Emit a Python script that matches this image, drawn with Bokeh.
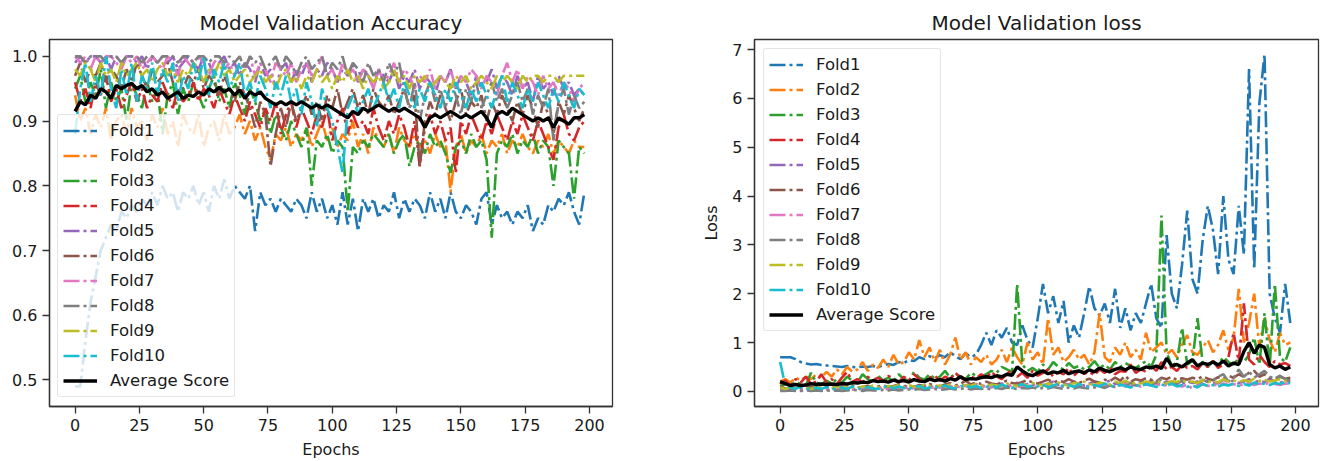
from bokeh.plotting import figure
from bokeh.layouts import row
from bokeh.models import Range1d, FixedTicker, PrintfTickFormatter
from bokeh.embed import file_html
from bokeh.resources import INLINE

EPOCHS = list(range(0, 200, 2))
FOLD_NAMES = ["Fold1", "Fold2", "Fold3", "Fold4", "Fold5", "Fold6", "Fold7", "Fold8", "Fold9", "Fold10"]
COLORS = ["#1f77b4", "#ff7f0e", "#2ca02c", "#d62728", "#9467bd",
          "#8c564b", "#e377c2", "#7f7f7f", "#bcbd22", "#17becf"]
X_TICKS = [0, 25, 50, 75, 100, 125, 150, 175, 200]
ACC_TICKS = [0.5, 0.6, 0.7, 0.8, 0.9, 1.0]
LOSS_TICKS = [0, 1, 2, 3, 4, 5, 6, 7]

# ---------------- validation accuracy (every 2nd epoch) ----------------
acc_fold1 = [0.49, 0.49, 0.56, 0.62, 0.66, 0.70, 0.72, 0.74, 0.73, 0.76,
             0.75, 0.77, 0.76, 0.78, 0.77, 0.79, 0.77, 0.80, 0.78, 0.79,
             0.76, 0.79, 0.78, 0.80, 0.77, 0.79, 0.76, 0.80, 0.78, 0.81,
             0.78, 0.80, 0.79, 0.78, 0.80, 0.73, 0.79, 0.77, 0.78, 0.76,
             0.78, 0.77, 0.76, 0.78, 0.77, 0.75, 0.79, 0.76, 0.78, 0.75,
             0.77, 0.74, 0.79, 0.74, 0.78, 0.73, 0.78, 0.76, 0.78, 0.75,
             0.77, 0.76, 0.79, 0.75, 0.78, 0.76, 0.78, 0.77, 0.75, 0.79,
             0.76, 0.78, 0.75, 0.79, 0.76, 0.75, 0.77, 0.76, 0.74, 0.78,
             0.79, 0.74, 0.77, 0.75, 0.76, 0.74, 0.76, 0.75, 0.77, 0.73,
             0.75, 0.74, 0.77, 0.76, 0.78, 0.77, 0.79, 0.76, 0.74, 0.79]
acc_fold2 = [0.94, 0.90, 0.92, 0.88, 0.91, 0.89, 0.92, 0.87, 0.90, 0.91,
             0.88, 0.92, 0.89, 0.90, 0.87, 0.91, 0.89, 0.92, 0.88, 0.90,
             0.86, 0.91, 0.89, 0.88, 0.91, 0.86, 0.89, 0.90, 0.87, 0.91,
             0.88, 0.89, 0.91, 0.88, 0.90, 0.87, 0.89, 0.86, 0.84, 0.88,
             0.87, 0.89, 0.86, 0.88, 0.87, 0.89, 0.86, 0.88, 0.90, 0.87,
             0.89, 0.86, 0.88, 0.87, 0.90, 0.86, 0.88, 0.85, 0.89, 0.87,
             0.86, 0.88, 0.85, 0.89, 0.87, 0.86, 0.88, 0.86, 0.87, 0.85,
             0.88, 0.86, 0.87, 0.79, 0.86, 0.88, 0.85, 0.87, 0.86, 0.88,
             0.85, 0.87, 0.86, 0.88, 0.85, 0.87, 0.86, 0.88, 0.86, 0.85,
             0.87, 0.86, 0.88, 0.85, 0.87, 0.86, 0.85, 0.87, 0.86, 0.86]
acc_fold3 = [0.95, 0.97, 0.93, 0.96, 0.94, 0.98, 0.92, 0.96, 0.93, 0.95,
             0.90, 0.96, 0.94, 0.92, 0.96, 0.93, 0.95, 0.88, 0.94, 0.96,
             0.91, 0.95, 0.93, 0.96, 0.94, 0.92, 0.95, 0.97, 0.93, 0.95,
             0.92, 0.96, 0.94, 0.91, 0.95, 0.93, 0.90, 0.92, 0.88, 0.91,
             0.89, 0.87, 0.90, 0.88, 0.86, 0.89, 0.80, 0.87, 0.86, 0.88,
             0.85, 0.87, 0.86, 0.76, 0.86, 0.85, 0.87, 0.86, 0.88, 0.87,
             0.86, 0.88, 0.85, 0.87, 0.88, 0.83, 0.86, 0.87, 0.85, 0.88,
             0.86, 0.87, 0.85, 0.82, 0.86, 0.87, 0.85, 0.88, 0.86, 0.87,
             0.84, 0.72, 0.85, 0.87, 0.86, 0.88, 0.85, 0.87, 0.86, 0.88,
             0.85, 0.87, 0.86, 0.80, 0.87, 0.86, 0.85, 0.78, 0.86, 0.85]
acc_fold4 = [0.96, 0.93, 0.95, 0.92, 0.96, 0.94, 0.97, 0.93, 0.95, 0.92,
             0.94, 0.96, 0.93, 0.95, 0.92, 0.94, 0.93, 0.96, 0.94, 0.92,
             0.95, 0.93, 0.94, 0.96, 0.93, 0.95, 0.94, 0.92, 0.95, 0.93,
             0.91, 0.94, 0.92, 0.90, 0.93, 0.91, 0.89, 0.92, 0.90, 0.93,
             0.88, 0.91, 0.93, 0.89, 0.92, 0.90, 0.88, 0.91, 0.89, 0.92,
             0.87, 0.90, 0.92, 0.88, 0.91, 0.89, 0.90, 0.88, 0.92, 0.89,
             0.87, 0.90, 0.88, 0.91, 0.89, 0.86, 0.90, 0.83, 0.89, 0.91,
             0.88, 0.90, 0.87, 0.89, 0.82, 0.90, 0.88, 0.91, 0.89, 0.87,
             0.90, 0.88, 0.91, 0.89, 0.87, 0.90, 0.88, 0.91, 0.89, 0.87,
             0.90, 0.88, 0.86, 0.84, 0.89, 0.91, 0.88, 0.87, 0.89, 0.90]
acc_fold5 = [0.99, 1.00, 0.99, 1.00, 1.00, 0.99, 1.00, 0.98, 1.00, 0.99,
             1.00, 1.00, 0.99, 1.00, 0.98, 1.00, 0.99, 1.00, 0.99, 1.00,
             0.98, 0.99, 1.00, 0.99, 0.98, 1.00, 0.99, 0.97, 0.99, 1.00,
             0.98, 0.99, 0.97, 0.99, 0.98, 0.96, 0.99, 0.97, 0.98, 0.95,
             0.98, 0.99, 0.96, 0.98, 0.97, 0.99, 0.96, 0.98, 0.97, 0.99,
             0.98, 0.96, 0.98, 0.97, 0.99, 0.96, 0.98, 0.97, 0.95, 0.98,
             0.97, 0.96, 0.98, 0.95, 0.97, 0.96, 0.98, 0.95, 0.97, 0.96,
             0.94, 0.97, 0.96, 0.98, 0.95, 0.97, 0.96, 0.94, 0.97, 0.95,
             0.96, 0.98, 0.95, 0.97, 0.96, 0.94, 0.97, 0.95, 0.96, 0.93,
             0.97, 0.95, 0.96, 0.94, 0.97, 0.95, 0.96, 0.94, 0.95, 0.94]
acc_fold6 = [0.97, 0.99, 0.96, 0.98, 0.97, 0.99, 0.96, 0.98, 0.97, 0.95,
             0.98, 0.96, 0.99, 0.97, 0.95, 0.98, 0.96, 0.97, 0.99, 0.96,
             0.98, 0.95, 0.97, 0.96, 0.98, 0.95, 0.97, 0.96, 0.94, 0.97,
             0.95, 0.93, 0.96, 0.94, 0.92, 0.89, 0.93, 0.91, 0.83, 0.88,
             0.92, 0.89, 0.93, 0.90, 0.92, 0.94, 0.91, 0.93, 0.90, 0.94,
             0.92, 0.95, 0.91, 0.93, 0.95, 0.92, 0.94, 0.91, 0.95, 0.93,
             0.92, 0.94, 0.91, 0.93, 0.95, 0.92, 0.94, 0.83, 0.90, 0.93,
             0.91, 0.94, 0.92, 0.90, 0.93, 0.95, 0.91, 0.93, 0.92, 0.94,
             0.90, 0.93, 0.91, 0.94, 0.92, 0.90, 0.93, 0.91, 0.94, 0.92,
             0.89, 0.93, 0.91, 0.88, 0.93, 0.91, 0.94, 0.92, 0.90, 0.92]
acc_fold7 = [1.00, 0.99, 1.00, 0.98, 1.00, 0.99, 1.00, 1.00, 0.99, 0.98,
             1.00, 0.99, 1.00, 0.98, 0.99, 1.00, 0.99, 0.98, 1.00, 0.99,
             0.97, 1.00, 0.99, 0.98, 1.00, 0.99, 0.97, 0.99, 1.00, 0.98,
             0.99, 0.97, 0.99, 0.98, 1.00, 0.97, 0.99, 0.98, 0.96, 0.99,
             0.98, 0.97, 0.99, 0.96, 0.98, 0.99, 0.97, 0.98, 1.00, 0.97,
             0.98, 0.96, 0.99, 0.97, 0.98, 0.96, 0.98, 0.97, 0.95, 0.98,
             0.96, 0.97, 0.99, 0.96, 0.98, 0.97, 0.95, 0.97, 0.96, 0.98,
             0.95, 0.97, 0.96, 0.98, 0.95, 0.97, 0.96, 0.98, 0.97, 0.95,
             0.97, 0.96, 0.94, 0.97, 0.99, 0.96, 0.98, 0.95, 0.97, 0.96,
             0.94, 0.97, 0.95, 0.96, 0.94, 0.96, 0.95, 0.93, 0.95, 0.96]
acc_fold8 = [1.00, 1.00, 0.99, 1.00, 1.00, 1.00, 0.99, 1.00, 1.00, 0.99,
             1.00, 1.00, 1.00, 0.99, 1.00, 1.00, 0.99, 1.00, 1.00, 1.00,
             0.99, 1.00, 1.00, 0.99, 1.00, 1.00, 0.99, 1.00, 1.00, 0.99,
             1.00, 0.99, 1.00, 0.98, 1.00, 0.99, 1.00, 0.98, 0.99, 1.00,
             0.98, 1.00, 0.99, 0.97, 0.99, 1.00, 0.98, 0.99, 1.00, 0.97,
             0.99, 0.98, 1.00, 0.97, 0.99, 0.98, 0.96, 0.99, 0.97, 0.98,
             0.96, 0.99, 0.97, 0.99, 0.95, 0.92, 0.96, 0.90, 0.94, 0.96,
             0.93, 0.95, 0.92, 0.96, 0.94, 0.91, 0.95, 0.93, 0.96, 0.92,
             0.94, 0.96, 0.93, 0.95, 0.92, 0.94, 0.96, 0.93, 0.95, 0.91,
             0.94, 0.92, 0.95, 0.87, 0.93, 0.95, 0.91, 0.94, 0.92, 0.93]
acc_fold9 = [0.98, 0.97, 0.99, 0.98, 0.96, 0.99, 0.97, 0.98, 0.96, 0.99,
             0.97, 0.98, 0.99, 0.97, 0.98, 0.96, 0.98, 0.99, 0.97, 0.98,
             0.96, 0.98, 0.97, 0.99, 0.98, 0.96, 0.98, 0.97, 0.99, 0.97,
             0.98, 0.96, 0.97, 0.98, 0.96, 0.97, 0.98, 0.96, 0.97, 0.95,
             0.97, 0.98, 0.96, 0.97, 0.95, 0.97, 0.96, 0.98, 0.96, 0.97,
             0.95, 0.97, 0.96, 0.98, 0.96, 0.97, 0.95, 0.97, 0.96, 0.97,
             0.95, 0.96, 0.98, 0.96, 0.97, 0.95, 0.97, 0.96, 0.97, 0.95,
             0.96, 0.97, 0.96, 0.95, 0.97, 0.96, 0.97, 0.95, 0.96, 0.97,
             0.96, 0.95, 0.97, 0.96, 0.97, 0.96, 0.95, 0.97, 0.96, 0.97,
             0.97, 0.96, 0.97, 0.97, 0.96, 0.97, 0.97, 0.97, 0.97, 0.97]
acc_fold10 = [0.88, 0.95, 0.99, 0.93, 0.97, 0.94, 1.00, 0.95, 0.92, 0.98,
              0.94, 0.99, 0.93, 0.97, 0.95, 0.99, 0.94, 0.98, 0.96, 0.99,
              0.93, 0.97, 0.95, 0.99, 0.96, 1.00, 0.94, 0.98, 0.96, 0.99,
              0.95, 0.97, 0.99, 0.94, 0.96, 0.93, 0.97, 0.95, 0.92, 0.96,
              0.94, 0.97, 0.93, 0.95, 0.91, 0.96, 0.93, 0.89, 0.95, 0.92,
              0.90, 0.86, 0.82, 0.92, 0.94, 0.91, 0.93, 0.95, 0.92, 0.94,
              0.96, 0.93, 0.95, 0.92, 0.96, 0.94, 0.92, 0.95, 0.93, 0.96,
              0.94, 0.92, 0.95, 0.93, 0.96, 0.94, 0.92, 0.95, 0.93, 0.96,
              0.94, 0.92, 0.95, 0.97, 0.93, 0.96, 0.94, 0.92, 0.95, 0.93,
              0.96, 0.94, 0.92, 0.95, 0.93, 0.96, 0.94, 0.92, 0.95, 0.94]
acc_average = [0.915, 0.930, 0.925, 0.940, 0.935, 0.950, 0.945, 0.935, 0.955, 0.950,
               0.955, 0.958, 0.950, 0.955, 0.945, 0.950, 0.940, 0.945, 0.935, 0.940,
               0.945, 0.935, 0.940, 0.938, 0.945, 0.940, 0.950, 0.945, 0.952, 0.945,
               0.950, 0.940, 0.948, 0.935, 0.945, 0.940, 0.945, 0.935, 0.930, 0.925,
               0.930, 0.925, 0.930, 0.925, 0.930, 0.925, 0.920, 0.925, 0.920, 0.925,
               0.920, 0.915, 0.910, 0.905, 0.915, 0.910, 0.920, 0.915, 0.920, 0.925,
               0.920, 0.915, 0.920, 0.915, 0.920, 0.915, 0.910, 0.905, 0.890, 0.905,
               0.910, 0.905, 0.910, 0.915, 0.910, 0.905, 0.910, 0.905, 0.910, 0.915,
               0.905, 0.890, 0.910, 0.915, 0.910, 0.920, 0.915, 0.910, 0.905, 0.900,
               0.905, 0.900, 0.905, 0.890, 0.905, 0.900, 0.895, 0.905, 0.905, 0.910]

# ---------------- validation loss (every 2nd epoch) ----------------
loss_fold1 = [0.70, 0.70, 0.70, 0.66, 0.60, 0.57, 0.55, 0.56, 0.54, 0.53,
              0.52, 0.51, 0.50, 0.52, 0.50, 0.49, 0.51, 0.50, 0.52, 0.50,
              0.53, 0.56, 0.54, 0.60, 0.58, 0.64, 0.62, 0.70, 0.66, 0.72,
              0.68, 0.74, 0.70, 0.80, 0.72, 0.66, 0.78, 0.70, 0.75, 0.95,
              1.20, 0.95, 1.25, 1.10, 1.30, 1.00, 0.95, 1.35, 1.05, 0.90,
              1.50, 2.20, 1.60, 1.95, 1.40, 1.85, 1.00, 1.35, 1.10, 1.60,
              2.15, 1.70, 1.55, 1.80, 1.40, 2.10, 1.30, 1.70, 1.25, 1.60,
              1.40, 1.80, 2.20, 1.50, 1.30, 3.20, 2.00, 1.70, 2.60, 3.70,
              2.30, 2.00, 3.10, 3.80, 3.30, 2.40, 4.00, 2.70, 2.40, 3.80,
              2.80, 6.60, 2.50, 5.90, 6.90, 2.00, 1.50, 1.20, 2.20, 1.40]
loss_fold2 = [0.20, 0.25, 0.18, 0.28, 0.22, 0.30, 0.25, 0.35, 0.28, 0.40,
              0.30, 0.45, 0.35, 0.50, 0.40, 0.45, 0.60, 0.42, 0.55, 0.48,
              0.65, 0.50, 0.75, 0.55, 0.60, 0.80, 0.65, 1.05, 0.70, 0.90,
              0.60, 0.85, 0.55, 0.75, 1.10, 0.65, 0.80, 0.55, 0.70, 0.60,
              0.75, 0.55, 0.65, 0.85, 0.60, 0.90, 0.70, 0.55, 1.00, 0.65,
              0.80, 0.55, 1.50, 0.75, 0.90, 0.60, 0.70, 0.85, 0.65, 0.75,
              0.55, 0.80, 1.60, 0.70, 0.60, 0.90, 0.75, 1.00, 0.70, 0.85,
              0.65, 1.20, 0.80, 0.90, 1.00, 0.75, 0.85, 0.70, 0.95, 1.15,
              0.80, 0.75, 0.90, 1.05, 0.80, 0.95, 1.25, 0.85, 1.10, 2.10,
              1.00, 1.40, 2.00, 0.90, 1.50, 1.05, 0.80, 1.20, 0.95, 1.00]
loss_fold3 = [0.10, 0.15, 0.12, 0.20, 0.15, 0.12, 0.38, 0.18, 0.14, 0.22,
              0.16, 0.25, 0.18, 0.30, 0.22, 0.18, 0.35, 0.25, 0.20, 0.32,
              0.22, 0.28, 0.20, 0.35, 0.25, 0.22, 0.40, 0.28, 0.24, 0.35,
              0.26, 0.30, 0.42, 0.28, 0.36, 0.30, 0.25, 0.38, 0.32, 0.30,
              0.35, 0.42, 0.38, 0.50, 0.45, 0.40, 2.20, 0.55, 0.42, 0.48,
              0.40, 0.55, 0.45, 0.60, 0.50, 0.45, 0.58, 0.48, 0.52, 0.45,
              0.50, 0.62, 0.48, 0.55, 0.45, 0.60, 0.50, 0.58, 0.52, 0.48,
              0.55, 0.62, 0.50, 0.75, 3.60, 0.80, 0.52, 0.60, 1.30, 0.55,
              0.62, 1.50, 0.58, 0.50, 0.62, 0.55, 0.70, 0.60, 0.55, 0.68,
              0.60, 0.75, 1.10, 0.55, 1.60, 0.50, 2.20, 0.70, 0.60, 0.90]
loss_fold4 = [0.15, 0.22, 0.12, 0.25, 0.18, 0.30, 0.15, 0.20, 0.35, 0.18,
              0.25, 0.15, 0.28, 0.40, 0.20, 0.25, 0.18, 0.30, 0.22, 0.28,
              0.20, 0.32, 0.25, 0.18, 0.30, 0.22, 0.35, 0.25, 0.20, 0.28,
              0.32, 0.22, 0.30, 0.25, 0.38, 0.28, 0.22, 0.30, 0.26, 0.35,
              0.28, 0.40, 0.30, 0.25, 0.35, 0.45, 0.30, 0.38, 0.28, 0.42,
              0.32, 0.38, 0.45, 0.30, 0.40, 0.35, 0.48, 0.32, 0.42, 0.36,
              0.40, 0.33, 0.45, 0.38, 0.50, 0.35, 0.42, 0.40, 0.55, 0.38,
              0.45, 0.40, 0.52, 0.42, 0.60, 0.45, 0.50, 0.42, 0.55, 0.48,
              0.52, 0.45, 0.58, 0.50, 0.62, 0.48, 0.55, 0.70, 1.20, 0.60,
              1.80, 0.65, 0.55, 0.75, 0.60, 0.50, 0.62, 0.55, 0.58, 0.52]
loss_fold5 = [0.03, 0.02, 0.05, 0.03, 0.04, 0.02, 0.06, 0.03, 0.05, 0.04,
              0.06, 0.03, 0.05, 0.08, 0.04, 0.06, 0.05, 0.09, 0.06, 0.08,
              0.07, 0.10, 0.06, 0.09, 0.12, 0.08, 0.10, 0.07, 0.12, 0.09,
              0.11, 0.08, 0.13, 0.10, 0.09, 0.14, 0.11, 0.10, 0.15, 0.12,
              0.10, 0.14, 0.12, 0.16, 0.11, 0.13, 0.18, 0.12, 0.15, 0.13,
              0.17, 0.12, 0.15, 0.20, 0.13, 0.16, 0.14, 0.19, 0.15, 0.12,
              0.16, 0.20, 0.14, 0.18, 0.22, 0.15, 0.17, 0.20, 0.16, 0.14,
              0.19, 0.16, 0.22, 0.17, 0.15, 0.20, 0.18, 0.12, 0.16, 0.21,
              0.17, 0.20, 0.15, 0.22, 0.18, 0.16, 0.24, 0.19, 0.22, 0.17,
              0.20, 0.25, 0.18, 0.22, 0.19, 0.26, 0.20, 0.17, 0.22, 0.20]
loss_fold6 = [0.10, 0.06, 0.08, 0.05, 0.09, 0.07, 0.10, 0.06, 0.08, 0.07,
              0.09, 0.06, 0.10, 0.08, 0.12, 0.07, 0.09, 0.11, 0.08, 0.10,
              0.12, 0.09, 0.11, 0.14, 0.10, 0.12, 0.09, 0.13, 0.11, 0.15,
              0.12, 0.10, 0.14, 0.17, 0.12, 0.15, 0.22, 0.14, 0.18, 0.15,
              0.20, 0.16, 0.14, 0.18, 0.22, 0.17, 0.15, 0.19, 0.23, 0.18,
              0.16, 0.20, 0.24, 0.18, 0.22, 0.19, 0.25, 0.20, 0.17, 0.22,
              0.26, 0.20, 0.18, 0.24, 0.21, 0.28, 0.22, 0.32, 0.20, 0.25,
              0.22, 0.27, 0.24, 0.20, 0.28, 0.25, 0.30, 0.23, 0.27, 0.24,
              0.28, 0.25, 0.31, 0.26, 0.23, 0.29, 0.26, 0.32, 0.28, 0.35,
              0.30, 0.38, 0.42, 0.30, 0.35, 0.28, 0.25, 0.30, 0.26, 0.28]
loss_fold7 = [0.05, 0.03, 0.06, 0.04, 0.02, 0.05, 0.03, 0.06, 0.04, 0.05,
              0.03, 0.06, 0.04, 0.07, 0.05, 0.03, 0.06, 0.08, 0.05, 0.07,
              0.06, 0.04, 0.08, 0.06, 0.09, 0.05, 0.07, 0.10, 0.06, 0.08,
              0.07, 0.10, 0.06, 0.09, 0.11, 0.08, 0.12, 0.07, 0.10, 0.09,
              0.11, 0.08, 0.12, 0.10, 0.09, 0.13, 0.11, 0.08, 0.12, 0.10,
              0.09, 0.13, 0.10, 0.12, 0.08, 0.11, 0.14, 0.10, 0.12, 0.09,
              0.12, 0.10, 0.14, 0.11, 0.13, 0.09, 0.12, 0.15, 0.11, 0.13,
              0.10, 0.14, 0.12, 0.16, 0.11, 0.13, 0.15, 0.12, 0.10, 0.14,
              0.05, 0.12, 0.15, 0.11, 0.14, 0.12, 0.16, 0.13, 0.15, 0.12,
              0.14, 0.17, 0.13, 0.16, 0.14, 0.18, 0.15, 0.13, 0.16, 0.15]
loss_fold8 = [0.01, 0.01, 0.02, 0.01, 0.01, 0.02, 0.01, 0.02, 0.01, 0.02,
              0.01, 0.02, 0.01, 0.02, 0.03, 0.02, 0.01, 0.03, 0.02, 0.02,
              0.03, 0.02, 0.04, 0.02, 0.03, 0.04, 0.03, 0.05, 0.03, 0.04,
              0.05, 0.03, 0.04, 0.06, 0.04, 0.05, 0.07, 0.04, 0.06, 0.05,
              0.06, 0.04, 0.07, 0.05, 0.08, 0.06, 0.05, 0.07, 0.06, 0.08,
              0.05, 0.07, 0.06, 0.09, 0.07, 0.05, 0.08, 0.06, 0.09, 0.07,
              0.06, 0.08, 0.10, 0.07, 0.12, 0.09, 0.15, 0.10, 0.18, 0.12,
              0.15, 0.22, 0.14, 0.18, 0.25, 0.16, 0.20, 0.15, 0.22, 0.18,
              0.20, 0.16, 0.24, 0.19, 0.22, 0.30, 0.35, 0.20, 0.28, 0.45,
              0.30, 0.40, 0.28, 0.35, 0.42, 0.30, 0.26, 0.32, 0.25, 0.22]
loss_fold9 = [0.08, 0.05, 0.09, 0.06, 0.10, 0.07, 0.05, 0.09, 0.07, 0.10,
              0.06, 0.09, 0.07, 0.11, 0.08, 0.06, 0.10, 0.08, 0.12, 0.09,
              0.07, 0.11, 0.09, 0.13, 0.08, 0.12, 0.10, 0.09, 0.13, 0.11,
              0.09, 0.12, 0.10, 0.14, 0.11, 0.09, 0.13, 0.11, 0.15, 0.12,
              0.10, 0.14, 0.12, 0.11, 0.16, 0.13, 0.11, 0.15, 0.12, 0.17,
              0.14, 0.12, 0.16, 0.13, 0.18, 0.14, 0.12, 0.17, 0.15, 0.20,
              0.15, 0.13, 0.18, 0.16, 0.14, 0.20, 0.16, 0.22, 0.15, 0.18,
              0.16, 0.20, 0.17, 0.22, 0.18, 0.16, 0.21, 0.19, 0.24, 0.18,
              0.20, 0.17, 0.23, 0.19, 0.21, 0.18, 0.25, 0.20, 0.22, 0.19,
              0.23, 0.20, 0.26, 0.21, 0.24, 0.20, 0.22, 0.25, 0.21, 0.23]
loss_fold10 = [0.60, 0.12, 0.08, 0.05, 0.10, 0.06, 0.04, 0.08, 0.05, 0.09,
               0.06, 0.04, 0.08, 0.05, 0.10, 0.07, 0.04, 0.09, 0.06, 0.05,
               0.08, 0.12, 0.06, 0.10, 0.07, 0.05, 0.09, 0.11, 0.06, 0.08,
               0.10, 0.07, 0.12, 0.08, 0.06, 0.10, 0.13, 0.08, 0.11, 0.07,
               0.09, 0.12, 0.08, 0.14, 0.10, 0.07, 0.11, 0.15, 0.09, 0.12,
               0.10, 0.14, 0.08, 0.12, 0.16, 0.10, 0.13, 0.09, 0.15, 0.11,
               0.08, 0.13, 0.10, 0.16, 0.12, 0.09, 0.14, 0.11, 0.08, 0.13,
               0.10, 0.15, 0.12, 0.09, 0.14, 0.11, 0.16, 0.10, 0.13, 0.09,
               0.12, 0.08, 0.15, 0.11, 0.13, 0.10, 0.14, 0.12, 0.16, 0.11,
               0.15, 0.12, 0.18, 0.14, 0.16, 0.13, 0.17, 0.15, 0.19, 0.16]
loss_average = [0.20, 0.16, 0.12, 0.14, 0.12, 0.13, 0.16, 0.14, 0.15, 0.14,
                0.15, 0.14, 0.16, 0.15, 0.18, 0.17, 0.19, 0.18, 0.22, 0.20,
                0.21, 0.19, 0.23, 0.20, 0.22, 0.19, 0.24, 0.21, 0.20, 0.25,
                0.22, 0.24, 0.21, 0.26, 0.23, 0.30, 0.24, 0.26, 0.25, 0.28,
                0.30, 0.28, 0.32, 0.30, 0.35, 0.33, 0.50, 0.42, 0.35, 0.32,
                0.38, 0.42, 0.36, 0.40, 0.38, 0.43, 0.36, 0.40, 0.42, 0.38,
                0.44, 0.40, 0.48, 0.43, 0.40, 0.45, 0.48, 0.44, 0.50, 0.46,
                0.45, 0.50, 0.48, 0.52, 0.47, 0.68, 0.52, 0.55, 0.50, 0.58,
                0.65, 0.52, 0.58, 0.55, 0.60, 0.54, 0.62, 0.52, 0.58, 0.55,
                0.82, 1.00, 0.78, 0.95, 0.90, 0.55, 0.48, 0.52, 0.45, 0.50]

ACC_FOLDS = [acc_fold1, acc_fold2, acc_fold3, acc_fold4, acc_fold5,
             acc_fold6, acc_fold7, acc_fold8, acc_fold9, acc_fold10]
LOSS_FOLDS = [loss_fold1, loss_fold2, loss_fold3, loss_fold4, loss_fold5,
              loss_fold6, loss_fold7, loss_fold8, loss_fold9, loss_fold10]

FONT = "DejaVu Sans"
TEXT = "#1a1a1a"


def make_panel(title, folds, average, y_range, y_ticks, y_fmt, y_label,
               border_left, border_right, legend_loc):
    p = figure(width=660, height=461, output_backend="svg", toolbar_location=None,
               x_range=Range1d(-9.95, 208.95), y_range=y_range,
               min_border_left=border_left, min_border_right=border_right,
               min_border_top=39, min_border_bottom=55)
    p.title.text = title
    p.title.align = "center"
    p.title.text_font = FONT
    p.title.text_font_size = "20px"
    p.title.text_font_style = "normal"
    p.title.text_color = TEXT
    p.title.standoff = 10
    p.title.offset = 0
    p.background_fill_color = "white"
    p.border_fill_color = "white"
    p.outline_line_color = "#333333"
    p.outline_line_width = 1.3
    p.xgrid.visible = False
    p.ygrid.visible = False

    for vals, name, col in zip(folds, FOLD_NAMES, COLORS):
        xs = EPOCHS[:len(vals)]
        p.line(xs, vals, line_color=col, line_width=2.6, line_dash="16 4 3 4",
               legend_label=name)
    p.line(EPOCHS[:len(average)], average, line_color="black", line_width=3.4,
           legend_label="Average Score")

    for ax in (p.xaxis[0], p.yaxis[0]):
        ax.axis_line_color = "#333333"
        ax.axis_line_width = 1.3
        ax.major_tick_line_color = "#333333"
        ax.major_tick_line_width = 1.3
        ax.major_tick_out = 7
        ax.major_tick_in = 0
        ax.minor_tick_line_color = None
        ax.major_label_text_font = FONT
        ax.major_label_text_font_size = "16px"
        ax.major_label_text_color = TEXT
        ax.axis_label_text_font = FONT
        ax.axis_label_text_font_size = "16px"
        ax.axis_label_text_font_style = "normal"
        ax.axis_label_text_color = TEXT
    p.xaxis.ticker = FixedTicker(ticks=X_TICKS)
    p.xaxis.axis_label = "Epochs"
    p.xaxis.major_label_standoff = 5
    p.xaxis.axis_label_standoff = 6
    p.yaxis.ticker = FixedTicker(ticks=y_ticks)
    p.yaxis.formatter = PrintfTickFormatter(format=y_fmt)
    p.yaxis.major_label_standoff = 5
    if y_label:
        p.yaxis.axis_label = y_label
        p.yaxis.axis_label_standoff = 8

    lg = p.legend[0]
    lg.location = legend_loc
    lg.margin = 9
    lg.padding = 5
    lg.spacing = 4
    lg.glyph_width = 34
    lg.glyph_height = 21
    lg.label_height = 21
    lg.label_standoff = 13
    lg.label_text_font = FONT
    lg.label_text_font_size = "16.5px"
    lg.label_text_color = TEXT
    lg.background_fill_color = "white"
    lg.background_fill_alpha = 0.8
    lg.border_line_color = "#cccccc"
    lg.border_line_width = 1
    lg.border_radius = 3
    return p


p1 = make_panel("Model Validation Accuracy", ACC_FOLDS, acc_average,
                Range1d(0.459, 1.026), ACC_TICKS, "%.1f", None, 49, 48, (8, 9))
p2 = make_panel("Model Validation loss", LOSS_FOLDS, loss_average,
                Range1d(-0.31, 7.205), LOSS_TICKS, "%d", "Loss", 94, 2, "top_left")

layout = row(p1, p2, spacing=0)
open("out.html", "w").write(file_html(layout, INLINE))
